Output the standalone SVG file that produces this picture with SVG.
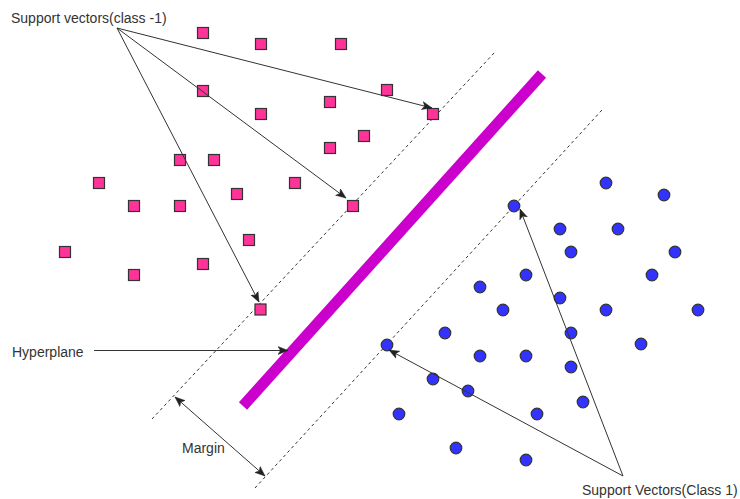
<svg xmlns="http://www.w3.org/2000/svg" width="740" height="499" viewBox="0 0 740 499">
<style>
.sq{fill:#ff3399;stroke:#333;stroke-width:1.2}
.ci{fill:#3333ff;stroke:#333;stroke-width:1.2}
.lbl{font-family:"Liberation Sans",Arial,sans-serif;font-size:14px;fill:#333}
.arr{fill:none;stroke:#333;stroke-width:1;marker-end:url(#ah)}
.dash{fill:none;stroke:#333;stroke-width:1;stroke-dasharray:3 3}
</style>
<defs>
<marker id="ah" markerUnits="userSpaceOnUse" markerWidth="12" markerHeight="10" refX="10" refY="4" orient="auto-start-reverse" viewBox="0 0 12 8">
<path d="M0,0 L10,4 L0,8 L2.5,4 Z" fill="#222" stroke="#222" stroke-width="0.5"/>
</marker>
</defs>
<rect width="740" height="499" fill="#fff"/>
<g id="margins">
<line class="dash" x1="152" y1="419" x2="495" y2="52"/>
<line class="dash" x1="255" y1="488" x2="602" y2="110"/>
</g>
<g id="hyperplane">
<line x1="243" y1="406" x2="542" y2="74" stroke="#cc00cc" stroke-width="11"/>
</g>
<g id="class-neg">
<rect class="sq" x="197.5" y="27.5" width="11" height="11"/>
<rect class="sq" x="255.5" y="38.5" width="11" height="11"/>
<rect class="sq" x="335.5" y="38.5" width="11" height="11"/>
<rect class="sq" x="197.5" y="85.5" width="11" height="11"/>
<rect class="sq" x="381.5" y="84.5" width="11" height="11"/>
<rect class="sq" x="324.5" y="96.5" width="11" height="11"/>
<rect class="sq" x="255.5" y="108.5" width="11" height="11"/>
<rect class="sq" x="427.5" y="108.5" width="11" height="11"/>
<rect class="sq" x="358.5" y="130.5" width="11" height="11"/>
<rect class="sq" x="324.5" y="142.5" width="11" height="11"/>
<rect class="sq" x="174.5" y="154.5" width="11" height="11"/>
<rect class="sq" x="208.5" y="154.5" width="11" height="11"/>
<rect class="sq" x="93.5" y="177.5" width="11" height="11"/>
<rect class="sq" x="289.5" y="177.5" width="11" height="11"/>
<rect class="sq" x="231.5" y="188.5" width="11" height="11"/>
<rect class="sq" x="128.5" y="200.5" width="11" height="11"/>
<rect class="sq" x="174.5" y="200.5" width="11" height="11"/>
<rect class="sq" x="347.5" y="200.5" width="11" height="11"/>
<rect class="sq" x="243.5" y="234.5" width="11" height="11"/>
<rect class="sq" x="59.5" y="246.5" width="11" height="11"/>
<rect class="sq" x="197.5" y="258.5" width="11" height="11"/>
<rect class="sq" x="128.5" y="269.5" width="11" height="11"/>
<rect class="sq" x="255" y="304" width="11" height="11"/>
</g>
<g id="class-pos">
<circle class="ci" cx="606" cy="183" r="5.8"/>
<circle class="ci" cx="664" cy="195" r="5.8"/>
<circle class="ci" cx="514" cy="206" r="5.8"/>
<circle class="ci" cx="560" cy="229" r="5.8"/>
<circle class="ci" cx="618" cy="229" r="5.8"/>
<circle class="ci" cx="571" cy="252" r="5.8"/>
<circle class="ci" cx="675" cy="252" r="5.8"/>
<circle class="ci" cx="526" cy="275" r="5.8"/>
<circle class="ci" cx="652" cy="275" r="5.8"/>
<circle class="ci" cx="480" cy="287" r="5.8"/>
<circle class="ci" cx="560" cy="298" r="5.8"/>
<circle class="ci" cx="503" cy="310" r="5.8"/>
<circle class="ci" cx="606" cy="310" r="5.8"/>
<circle class="ci" cx="698" cy="310" r="5.8"/>
<circle class="ci" cx="445" cy="333" r="5.8"/>
<circle class="ci" cx="571" cy="333" r="5.8"/>
<circle class="ci" cx="641" cy="344" r="5.8"/>
<circle class="ci" cx="387" cy="345" r="5.8"/>
<circle class="ci" cx="480" cy="356" r="5.8"/>
<circle class="ci" cx="526" cy="356" r="5.8"/>
<circle class="ci" cx="571" cy="367" r="5.8"/>
<circle class="ci" cx="433" cy="379" r="5.8"/>
<circle class="ci" cx="468" cy="391" r="5.8"/>
<circle class="ci" cx="583" cy="402" r="5.8"/>
<circle class="ci" cx="399" cy="414" r="5.8"/>
<circle class="ci" cx="537" cy="414" r="5.8"/>
<circle class="ci" cx="456" cy="448" r="5.8"/>
<circle class="ci" cx="526" cy="460" r="5.8"/>
</g>
<g id="connectors">
<path class="arr" d="M117,28 L432,108"/>
<path class="arr" d="M117,28 L346,198"/>
<path class="arr" d="M117,28 L259,302"/>
<path class="arr" d="M623,476 L520,209"/>
<path class="arr" d="M623,476 L389,350"/>
<path class="arr" d="M94,350.5 L288,350.5"/>
<path class="arr" d="M175,397 L265,476" style="marker-start:url(#ah)"/>
</g>
<g id="labels">
<text class="lbl" x="11" y="23">Support vectors(class -1)</text>
<text class="lbl" x="12" y="357">Hyperplane</text>
<text class="lbl" x="182" y="453">Margin</text>
<text class="lbl" x="582" y="495">Support Vectors(Class 1)</text>
</g>
</svg>
